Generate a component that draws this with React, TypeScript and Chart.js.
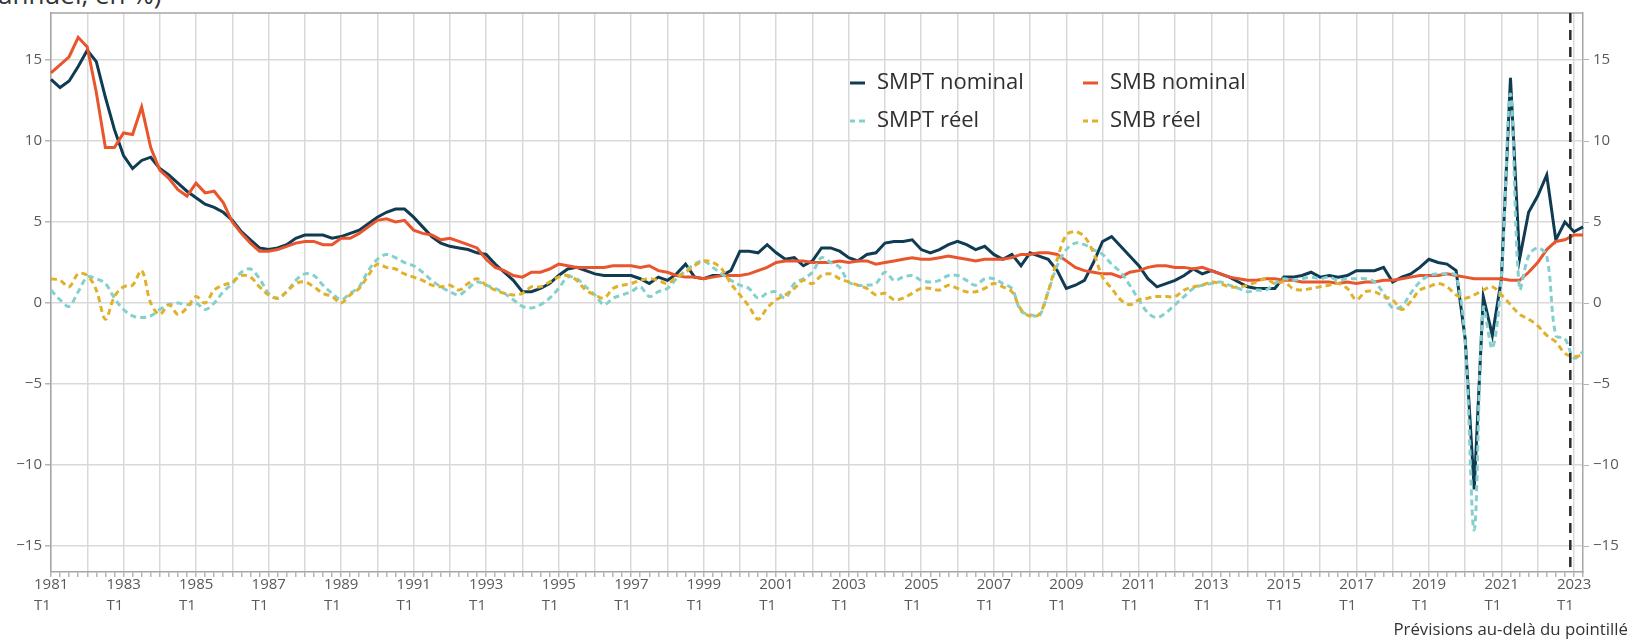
import React, { useEffect, useRef } from "react";
import { Chart, registerables } from "chart.js";

Chart.register(...registerables);

// ---- Data (quarterly, 1981 T1 -> 2023 T2) ----
const firstYear = 1981;
const lastYear = 2023;
const lastQuarter = 2;
const forecastAfter = "2022 T4"; // dashed line placed just after this quarter

const quarterLabels: string[] = [];
for (let y = firstYear; y <= lastYear; y++) {
  for (let q = 1; q <= 4; q++) {
    if (y === lastYear && q > lastQuarter) break;
    quarterLabels.push(`${y} T${q}`);
  }
}

const yTicks = [-15, -10, -5, 0, 5, 10, 15];

const smptNominal = [
  13.8, 13.3, 13.7, 14.6, 15.6, 14.9, 12.7, 10.7, 9.1, 8.3, 8.8, 9.0,
  8.3, 7.9, 7.4, 6.9, 6.5, 6.1, 5.9, 5.6, 5.1, 4.4, 3.9, 3.4,
  3.3, 3.4, 3.6, 4.0, 4.2, 4.2, 4.2, 4.0, 4.1, 4.3, 4.5, 4.9,
  5.3, 5.6, 5.8, 5.8, 5.3, 4.7, 4.1, 3.7, 3.5, 3.4, 3.3, 3.1,
  3.0, 2.4, 1.9, 1.4, 0.7, 0.7, 0.9, 1.2, 1.7, 2.1, 2.2, 2.0,
  1.8, 1.7, 1.7, 1.7, 1.7, 1.5, 1.2, 1.6, 1.4, 1.8, 2.4, 1.6,
  1.5, 1.7, 1.7, 2.0, 3.2, 3.2, 3.1, 3.6, 3.1, 2.7, 2.8, 2.3,
  2.6, 3.4, 3.4, 3.2, 2.8, 2.6, 3.0, 3.1, 3.7, 3.8, 3.8, 3.9,
  3.3, 3.1, 3.3, 3.6, 3.8, 3.6, 3.3, 3.5, 3.0, 2.7, 3.0, 2.3,
  3.1, 2.9, 2.7, 2.0, 0.9, 1.1, 1.4, 2.5, 3.8, 4.1, 3.5, 2.9,
  2.3, 1.5, 1.0, 1.2, 1.4, 1.7, 2.1, 1.8, 2.0, 1.8, 1.6, 1.3,
  1.0, 0.9, 0.9, 0.9, 1.6, 1.6, 1.7, 1.9, 1.6, 1.7, 1.6, 1.7,
  2.0, 2.0, 2.0, 2.2, 1.3, 1.6, 1.8, 2.2, 2.7, 2.5, 2.4, 2.0,
  -2.2, -11.5, 0.4, -2.0, 1.5, 13.9, 2.7, 5.6, 6.6, 7.9, 3.9, 5.0,
  4.4, 4.7,
];

const smbNominal = [
  14.2, 14.7, 15.2, 16.4, 15.8, 13.0, 9.6, 9.6, 10.5, 10.4, 12.1, 9.6,
  8.2, 7.7, 7.0, 6.6, 7.4, 6.8, 6.9, 6.2, 5.0, 4.3, 3.7, 3.2,
  3.2, 3.3, 3.5, 3.7, 3.8, 3.8, 3.6, 3.6, 4.0, 4.0, 4.3, 4.7,
  5.1, 5.2, 5.0, 5.1, 4.5, 4.3, 4.2, 3.9, 4.0, 3.8, 3.6, 3.4,
  2.7, 2.2, 2.0, 1.7, 1.6, 1.9, 1.9, 2.1, 2.4, 2.3, 2.2, 2.2,
  2.2, 2.2, 2.3, 2.3, 2.3, 2.2, 2.3, 2.0, 1.9, 1.7, 1.6, 1.6,
  1.5, 1.6, 1.7, 1.7, 1.7, 1.8, 2.0, 2.2, 2.5, 2.6, 2.6, 2.6,
  2.5, 2.5, 2.5, 2.6, 2.5, 2.6, 2.6, 2.4, 2.5, 2.6, 2.7, 2.8,
  2.7, 2.7, 2.8, 2.9, 2.8, 2.7, 2.6, 2.7, 2.7, 2.7, 2.8, 3.0,
  3.0, 3.1, 3.1, 3.0, 2.6, 2.2, 2.0, 1.9, 1.8, 1.8, 1.6, 1.9,
  2.0, 2.2, 2.3, 2.3, 2.2, 2.2, 2.1, 2.2, 2.0, 1.8, 1.6, 1.5,
  1.4, 1.4, 1.5, 1.5, 1.4, 1.4, 1.3, 1.3, 1.3, 1.3, 1.2, 1.3,
  1.2, 1.3, 1.3, 1.4, 1.4, 1.5, 1.6, 1.7, 1.7, 1.7, 1.8, 1.7,
  1.6, 1.5, 1.5, 1.5, 1.5, 1.4, 1.4, 1.9, 2.5, 3.3, 3.8, 3.9,
  4.2, 4.2,
];

const smptReel = [
  0.8, 0.2, -0.2, 0.7, 1.6, 1.5, 1.2, 0.3, -0.4, -0.8, -0.9, -0.8,
  -0.4, -0.1, 0.0, -0.1, 0.0, -0.4, 0.0, 0.7, 1.2, 1.9, 2.1, 1.5,
  0.6, 0.3, 0.7, 1.4, 1.8, 1.7, 1.1, 0.6, 0.2, 0.6, 1.0, 2.0,
  2.7, 3.0, 2.8, 2.5, 2.3, 1.9, 1.4, 1.0, 0.7, 0.5, 0.9, 1.3,
  1.1, 0.9, 0.6, 0.2, -0.2, -0.3, -0.1, 0.3, 0.9, 1.6, 1.5, 1.0,
  0.5, -0.1, 0.3, 0.5, 0.7, 1.0, 0.4, 0.7, 0.9, 1.5, 2.0, 2.4,
  2.6, 2.2, 1.8, 1.4, 1.1, 0.9, 0.3, 0.6, 0.7, 0.3, 1.2, 1.5,
  1.9, 2.8, 2.5, 2.2, 1.3, 1.1, 1.1, 1.2, 1.9, 1.4, 1.6, 1.7,
  1.4, 1.3, 1.4, 1.7, 1.7, 1.4, 1.1, 1.5, 1.5, 1.2, 0.9, -0.5,
  -0.7, -0.8, 0.7, 2.3, 3.3, 3.7, 3.6, 3.3, 3.0, 2.4, 1.9, 1.1,
  0.2, -0.6, -0.9, -0.6, -0.1, 0.4, 0.9, 1.1, 1.2, 1.3, 1.1, 0.9,
  0.7, 0.8, 0.8, 1.2, 1.5, 1.4, 1.5, 1.6, 1.5, 1.6, 1.4, 1.5,
  1.5, 1.5, 1.3, 0.6, -0.3, -0.2, 0.6, 1.3, 1.7, 1.8, 1.8, 1.7,
  -2.4, -14.0, -0.3, -2.8, 1.7, 12.9, 0.9, 2.9, 3.4, 2.9, -2.0, -2.2,
  -3.4, -3.0,
];

const smbReel = [
  1.5, 1.4, 1.0, 1.8, 1.7, 0.8, -1.0, 0.4, 1.0, 1.1, 2.0, 0.0,
  -0.7, -0.1, -0.7, -0.3, 0.4, 0.0, 0.8, 1.1, 1.3, 1.7, 1.6, 1.0,
  0.5, 0.3, 0.7, 1.2, 1.3, 1.0, 0.6, 0.4, 0.0, 0.5, 0.9, 1.7,
  2.4, 2.2, 2.1, 1.8, 1.6, 1.4, 1.1, 1.0, 1.1, 0.8, 1.2, 1.5,
  1.1, 0.8, 0.6, 0.5, 0.6, 1.0, 1.0, 1.3, 1.6, 1.7, 1.4, 0.8,
  0.5, 0.3, 0.9, 1.1, 1.2, 1.4, 1.5, 1.4, 1.2, 1.6, 1.9, 2.3,
  2.6, 2.5, 2.1, 1.2, 0.5, -0.2, -1.0, -0.3, 0.2, 0.5, 0.9, 1.4,
  1.2, 1.7, 1.8, 1.5, 1.3, 1.1, 0.9, 0.5, 0.6, 0.2, 0.3, 0.6,
  0.9, 0.9, 0.8, 1.1, 0.9, 0.7, 0.7, 0.9, 1.2, 1.0, 0.7, -0.4,
  -0.8, -0.7, 0.7, 2.7, 4.2, 4.4, 4.1, 3.1, 1.6, 0.9, 0.2, -0.1,
  0.2, 0.3, 0.4, 0.4, 0.4, 0.8, 1.0, 1.1, 1.3, 1.2, 1.0, 1.0,
  1.1, 1.3, 1.5, 1.2, 1.3, 0.9, 0.8, 0.9, 1.0, 1.1, 1.2, 0.9,
  0.2, 0.7, 0.7, 0.4, 0.2, -0.4, 0.1, 0.8, 1.0, 1.2, 1.0, 0.5,
  0.3, 0.5, 0.8, 1.0, 0.5, -0.1, -0.7, -1.0, -1.4, -2.0, -2.4, -3.1,
  -3.3, -3.2,
];

// ---- Styles ----
const NAVY = "#0f3b53";
const ORANGE = "#e9552d";
const TEAL = "#84d0cf";
const GOLD = "#e0b12a";
const GRID = "#d9d9d9";
const AXIS = "#a6a6a6";
const TICK_TEXT = "#5a5a5a";
const FONT = '"Open Sans", "Noto Sans", sans-serif';

const legendItems = [
  { label: "SMPT nominal", color: NAVY, dashed: false },
  { label: "SMB nominal", color: ORANGE, dashed: false },
  { label: "SMPT réel", color: TEAL, dashed: true },
  { label: "SMB réel", color: GOLD, dashed: true },
];

const minus = (v: number) => (v < 0 ? "\u2212" + Math.abs(v) : String(v));

const overlayPlugin = {
  id: "overlay",
  beforeDatasetsDraw(chart: any) {
    const { ctx, chartArea: a } = chart;
    ctx.save();
    ctx.strokeStyle = AXIS;
    ctx.lineWidth = 1.5;
    ctx.beginPath();
    ctx.moveTo(a.left, a.top);
    ctx.lineTo(a.right, a.top);
    ctx.stroke();
    ctx.restore();
  },
  afterDatasetsDraw(chart: any) {
    const { ctx, chartArea: a } = chart;
    const xs = chart.scales.x;
    // forecast dashed line
    const idx = quarterLabels.indexOf(forecastAfter) + 0.6;
    const px = xs.getPixelForValue(idx);
    ctx.save();
    ctx.strokeStyle = "#2b2b2b";
    ctx.lineWidth = 2.5;
    ctx.setLineDash([10, 7]);
    ctx.beginPath();
    ctx.moveTo(px, a.top);
    ctx.lineTo(px, a.bottom);
    ctx.stroke();
    ctx.restore();

    // legend (2 columns x 2 rows)
    const colX = [850, 1083];
    const rowY = [83, 121];
    ctx.save();
    ctx.font = `22px ${FONT}`;
    ctx.textBaseline = "middle";
    legendItems.forEach((it, i) => {
      const cx = colX[i % 2];
      const cy = rowY[Math.floor(i / 2)];
      ctx.strokeStyle = it.color;
      ctx.lineWidth = 3;
      ctx.beginPath();
      if (it.dashed) {
        ctx.moveTo(cx, cy);
        ctx.lineTo(cx + 5, cy);
        ctx.moveTo(cx + 9, cy);
        ctx.lineTo(cx + 15, cy);
      } else {
        ctx.moveTo(cx, cy);
        ctx.lineTo(cx + 15, cy);
      }
      ctx.stroke();
      ctx.fillStyle = "#2f2f2f";
      ctx.fillText(it.label, cx + 27, cy);
    });
    ctx.restore();
  },
};

export default function App() {
  const ref = useRef<HTMLCanvasElement>(null);

  useEffect(() => {
    document.body.style.margin = "0";
    Chart.defaults.font.family = FONT;
    const yCommon = {
      type: "linear" as const,
      min: -16.6,
      max: 17.9,
      afterBuildTicks: (s: any) => {
        s.ticks = yTicks.map((v) => ({ value: v }));
      },
      border: { display: true, color: AXIS, width: 1.5 },
      ticks: {
        color: TICK_TEXT,
        font: { size: 15 },
        callback: (v: any) => minus(Number(v)),
      },
    };
    const chart = new Chart(ref.current!, {
      type: "line",
      data: {
        labels: quarterLabels,
        datasets: [
          {
            label: "SMPT nominal",
            data: smptNominal,
            borderColor: NAVY,
            borderWidth: 3,
            pointRadius: 0,
            tension: 0,
            order: 4,
          },
          {
            label: "SMB nominal",
            data: smbNominal,
            borderColor: ORANGE,
            borderWidth: 3,
            pointRadius: 0,
            tension: 0,
            order: 3,
          },
          {
            label: "SMPT réel",
            data: smptReel,
            borderColor: TEAL,
            borderWidth: 3,
            borderDash: [6, 4],
            pointRadius: 0,
            tension: 0.35,
            order: 2,
          },
          {
            label: "SMB réel",
            data: smbReel,
            borderColor: GOLD,
            borderWidth: 3,
            borderDash: [6, 4],
            pointRadius: 0,
            tension: 0.35,
            order: 1,
          },
        ],
      },
      options: {
        responsive: false,
        animation: false,
        devicePixelRatio: 1,
        events: [],
        layout: { padding: { top: 8, left: 0, right: 0, bottom: 0 } },
        plugins: {
          legend: { display: false },
          tooltip: { enabled: false },
          title: { display: false },
        },
        scales: {
          x: {
            type: "category",
            offset: false,
            afterFit: (s: any) => {
              s.height = 68;
            },
            border: { display: true, color: AXIS, width: 1.5 },
            grid: {
              color: (c: any) => (c.index % 4 === 0 ? GRID : "rgba(0,0,0,0)"),
              lineWidth: 1.5,
              tickColor: "#b5b5b5",
              tickLength: 5,
              drawTicks: true,
            },
            ticks: {
              autoSkip: false,
              maxRotation: 0,
              minRotation: 0,
              align: "start",
              labelOffset: -17,
              padding: -2,
              color: TICK_TEXT,
              font: { size: 15, lineHeight: 1.35 },
              callback: (_v: any, i: number) =>
                i % 8 === 0 ? [quarterLabels[i].split(" ")[0], quarterLabels[i].split(" ")[1]] : "",
            },
          },
          y: {
            ...yCommon,
            position: "left",
            afterFit: (s: any) => {
              s.width = 51;
            },
            grid: { color: GRID, lineWidth: 1.5, tickColor: "#b5b5b5", tickLength: 6 },
            ticks: { ...yCommon.ticks, padding: 3 },
          },
          y2: {
            ...yCommon,
            position: "right",
            afterFit: (s: any) => {
              s.width = 51;
            },
            grid: { drawOnChartArea: false, tickColor: "#b5b5b5", tickLength: 6 },
            ticks: { ...yCommon.ticks, padding: 4 },
          },
        },
      },
      plugins: [overlayPlugin],
    } as any);
    return () => chart.destroy();
  }, []);

  return (
    <div
      style={{
        position: "absolute",
        left: 0,
        top: 0,
        width: 1634,
        height: 640,
        overflow: "hidden",
        background: "#fff",
        fontFamily: FONT,
      }}
    >
      <div
        style={{
          position: "absolute",
          left: -2,
          top: -19,
          fontSize: 26,
          lineHeight: "26px",
          color: "#333",
          whiteSpace: "nowrap",
        }}
      >
        annuel, en %)
      </div>
      <canvas ref={ref} width={1634} height={640} style={{ position: "absolute", left: 0, top: 0 }} />
      <div
        style={{
          position: "absolute",
          right: 6,
          top: 620,
          fontSize: 16.8,
          lineHeight: "18px",
          color: "#333",
          whiteSpace: "nowrap",
        }}
      >
        Prévisions au-delà du pointillé
      </div>
    </div>
  );
}
